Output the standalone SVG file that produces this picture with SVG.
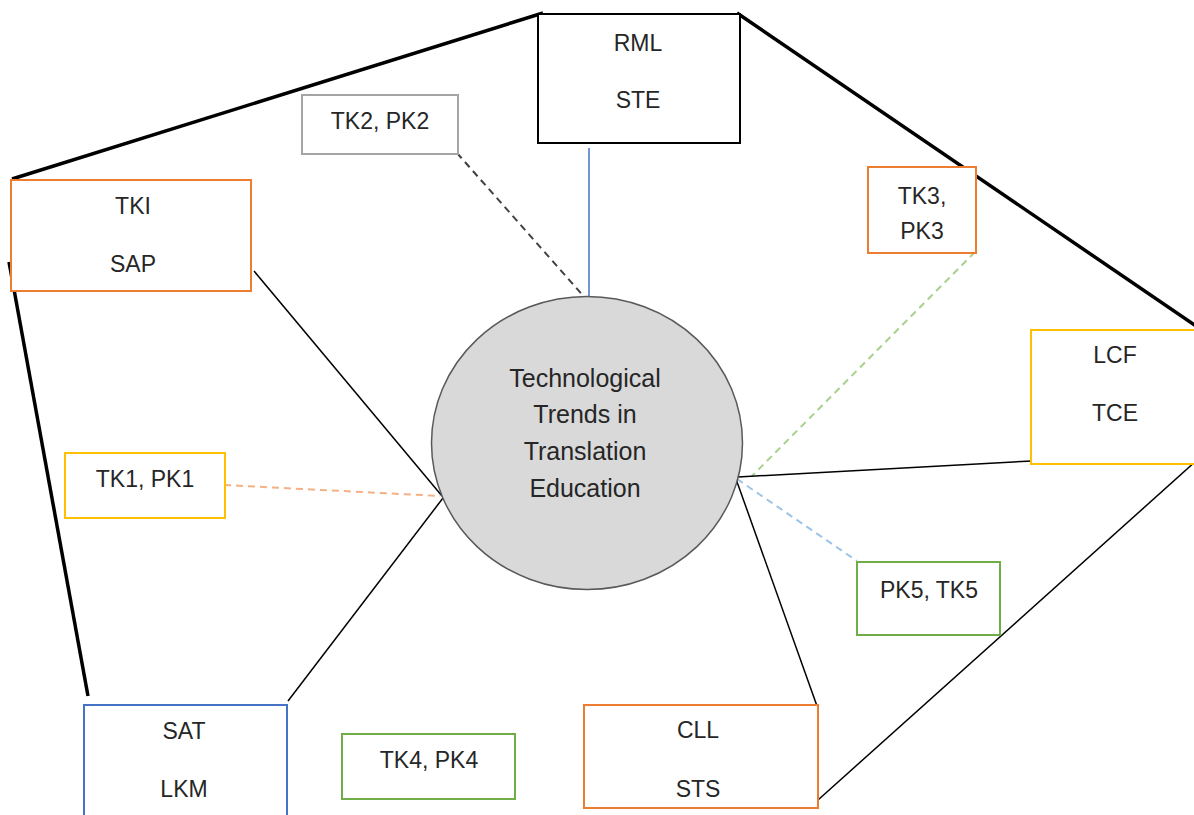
<svg xmlns="http://www.w3.org/2000/svg" width="1194" height="815" viewBox="0 0 1194 815">
<style>
  text { font-family: "Liberation Sans", Arial, sans-serif; font-size: 23px; fill: #262626; text-anchor: middle; }
  .box { fill: #ffffff; stroke-width: 2; }
  .orange { stroke: #ed7d31; }
  .yellow { stroke: #ffc000; }
  .green { stroke: #70ad47; }
  .blue { stroke: #4472c4; }
  .gray { stroke: #a5a5a5; }
  .black { stroke: #000000; }
  .frame { stroke: #000000; stroke-width: 3.5; fill: none; }
  .spoke { stroke: #000000; stroke-width: 1.5; fill: none; }
  .dash { stroke-width: 2; stroke-dasharray: 7 5; fill: none; }
  .ctext { font-size: 25px; }
</style>
<rect width="1194" height="815" fill="#ffffff"/>
<g id="connectors">
  <line class="frame" x1="12" y1="179" x2="543" y2="13"/>
  <line class="frame" x1="737" y1="13" x2="1196" y2="326"/>
  <line class="frame" x1="9" y1="262" x2="88" y2="696"/>
  <line class="spoke" x1="818" y1="800" x2="1196" y2="461"/>
  <line class="spoke" x1="254" y1="271" x2="442" y2="496"/>
  <line class="spoke" x1="288" y1="701" x2="443" y2="498"/>
  <line x1="589" y1="148" x2="589" y2="300" stroke="#4472c4" stroke-width="1.5"/>
  <line class="dash" x1="457" y1="153" x2="587" y2="300" stroke="#404040"/>
  <line class="dash" x1="224" y1="485" x2="440" y2="496" stroke="#f4b183"/>
  <line class="dash" x1="975" y1="252" x2="752" y2="476" stroke="#a9d18e"/>
  <line class="spoke" x1="738" y1="477" x2="1032" y2="461"/>
  <line class="dash" x1="737" y1="479" x2="857" y2="561" stroke="#9dc3e6"/>
  <line class="spoke" x1="736" y1="479" x2="817" y2="706"/>
</g>
<g id="center">
  <ellipse cx="587" cy="443" rx="155.5" ry="146.5" fill="#d9d9d9" stroke="#595959" stroke-width="1.5"/>
  <text class="ctext" x="585" y="387">Technological</text>
  <text class="ctext" x="585" y="423">Trends in</text>
  <text class="ctext" x="585" y="460">Translation</text>
  <text class="ctext" x="585" y="497">Education</text>
</g>
<g id="rml">
  <rect class="box black" x="538" y="14" width="202" height="129" stroke-width="1.5"/>
  <text x="638" y="51">RML</text>
  <text x="638" y="108">STE</text>
</g>
<g id="tk2">
  <rect class="box gray" x="302" y="95" width="156" height="59"/>
  <text x="380" y="129">TK2, PK2</text>
</g>
<g id="tki">
  <rect class="box orange" x="11" y="180" width="240" height="111"/>
  <text x="133" y="214">TKI</text>
  <text x="133" y="272">SAP</text>
</g>
<g id="tk3">
  <rect class="box orange" x="868" y="167" width="108" height="86"/>
  <text x="922" y="204">TK3,</text>
  <text x="922" y="239">PK3</text>
</g>
<g id="lcf">
  <rect class="box yellow" x="1031" y="330" width="175" height="134"/>
  <text x="1115" y="363">LCF</text>
  <text x="1115" y="421">TCE</text>
</g>
<g id="tk1">
  <rect class="box yellow" x="65" y="453" width="160" height="65"/>
  <text x="145" y="487">TK1, PK1</text>
</g>
<g id="sat">
  <rect class="box blue" x="84" y="705" width="203" height="120"/>
  <text x="184" y="739">SAT</text>
  <text x="184" y="797">LKM</text>
</g>
<g id="tk4">
  <rect class="box green" x="342" y="734" width="173" height="65"/>
  <text x="429" y="768">TK4, PK4</text>
</g>
<g id="cll">
  <rect class="box orange" x="584" y="705" width="234" height="103"/>
  <text x="698" y="738">CLL</text>
  <text x="698" y="797">STS</text>
</g>
<g id="pk5">
  <rect class="box green" x="857" y="562" width="143" height="73"/>
  <text x="929" y="598">PK5, TK5</text>
</g>
</svg>
